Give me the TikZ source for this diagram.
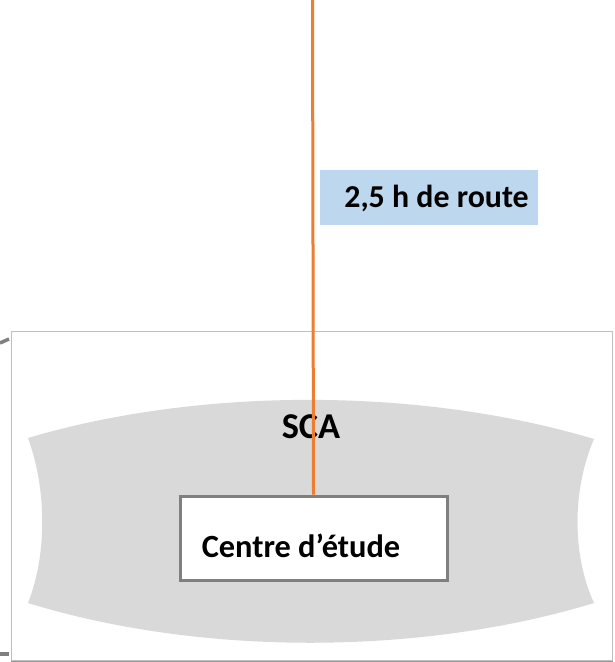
\documentclass[tikz,border=0pt]{standalone}
\usepackage{fontspec}
\setmainfont{Carlito}
\definecolor{routeorange}{HTML}{ED7D31}
\definecolor{labelblue}{HTML}{BDD7EE}
\definecolor{scagrey}{HTML}{D9D9D9}
\definecolor{framegrey}{HTML}{BFBFBF}
\definecolor{boxgrey}{HTML}{7F7F7F}
\begin{document}
\begin{tikzpicture}[x=1bp,y=-1bp,
  zonebox/.style={draw=framegrey,line width=1.5bp,fill=white,inner sep=0pt,anchor=north west},
  centrebox/.style={draw=boxgrey,line width=3bp,fill=white,inner sep=0pt,anchor=north west,minimum width=267bp,minimum height=84bp},
  labelbox/.style={fill=labelblue,inner sep=0pt,anchor=north west,minimum width=218bp,minimum height=55bp},
  boldtext/.style={font=\bfseries\fontsize{#1}{#1}\selectfont,inner sep=0pt,anchor=base},
  stub/.style={draw=boxgrey,line width=3.5bp}
]
\useasboundingbox (0,0) rectangle (615,662);
% outer frame
\node[zonebox,minimum width=601bp,minimum height=329bp] (zone) at (10.75,330.75) {};
\draw[boxgrey!80,line width=1.5bp] (zone.south west) -- (zone.south east);
% stubs at the left
\coordinate (s1a) at (0,343);
\coordinate (s1b) at (9,339);
\coordinate (s2a) at (0,654);
\coordinate (s2b) at (9,654);
\draw[stub] (s1a) -- (s1b);
\draw[stub] (s2a) -- (s2b);
% SCA shape
\fill[scagrey] (28,438) .. controls (200,387) and (420,387) .. (594,439)
  .. controls (572,490) and (572,555) .. (594,603)
  .. controls (420,656) and (200,656) .. (28,603)
  .. controls (47,555) and (47,490) .. (28,438) -- cycle;
\node[boldtext=36.5] (sca) at (311,438) {SCA};
% label
\node[labelbox] (lbl) at (320,170) {};
\node[boldtext=32] (lbltext) at (436.5,207) {2,5 h de route};
% centre box
\node[centrebox] (centre) at (178.5,494.5) {};
% road
\coordinate (top) at (312.5,0);
\draw[routeorange,line width=3bp] (top) -- (centre.north);
\node[boldtext=32.5] (centretext) at (301,557) {Centre d’étude};
\end{tikzpicture}
\end{document}
